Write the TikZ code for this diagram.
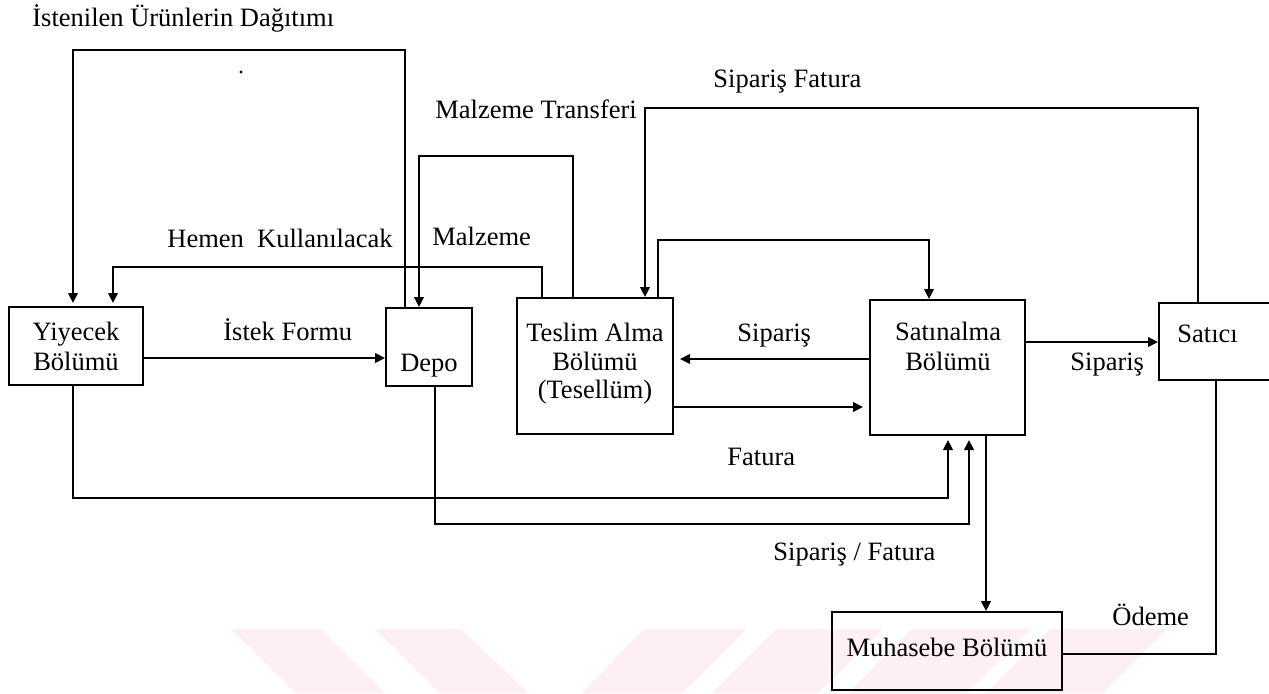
\documentclass[tikz,border=0pt]{standalone}
\usepackage{fontspec}
\setmainfont{Liberation Serif}
\usetikzlibrary{arrows.meta}
\definecolor{wmark}{RGB}{253,239,242}
\tikzset{
  box/.style={draw, line width=1pt, rectangle, inner sep=0pt},
  lbl/.style={font=\fontsize{13.25}{15.5}\selectfont, inner sep=0pt, anchor=base},
  lblw/.style={lbl, anchor=base west},
  link/.style={line width=1pt},
  arr/.style={link, -{Triangle[length=5pt,width=4.8pt]}},
}
\begin{document}
\begin{tikzpicture}[x=0.5pt,y=-0.5pt]
\useasboundingbox (0,0) rectangle (1269,693);
\fill[white] (0,0) rectangle (1269,693);

% pale stripes along the lower edge
\fill[wmark] (231,629) -- (320,629) -- (385,693) -- (296,693) -- cycle;
\fill[wmark] (375,629) -- (461,629) -- (528,693) -- (440,693) -- cycle;
\fill[wmark] (644,629) -- (746,629) -- (682,693) -- (582,693) -- cycle;
\fill[wmark] (776,629) -- (882,629) -- (818,693) -- (712,693) -- cycle;
\fill[wmark] (912,629) -- (1030,629) -- (966,693) -- (848,693) -- cycle;
\fill[wmark] (1050,629) -- (1167,629) -- (1103,693) -- (986,693) -- cycle;

% departments
\node[box, minimum width=67pt, minimum height=39pt] (yiy) at (76,346) {};
\node[box, minimum width=43pt, minimum height=39pt] (depo) at (429,347) {};
\node[box, minimum width=78pt, minimum height=68pt] (teslim) at (595,366) {};
\node[box, minimum width=77.5pt, minimum height=67.5pt] (satin) at (947.5,367.5) {};
\node[box, minimum width=115pt, minimum height=39pt] (muh) at (947,651) {};
\begin{scope}
  \clip (0,0) rectangle (1269,693);
  \node[box, minimum width=65.5pt, minimum height=38.5pt] (satici) at (1224.5,341.5) {};
\end{scope}

% box texts
\node[lbl] (t1) at (76,340) {Yiyecek};
\node[lbl] (t2) at (76,370) {Bölümü};
\node[lbl] (t3) at (429,371) {Depo};
\node[lbl] (t4) at (595,341) {Teslim Alma};
\node[lbl] (t5) at (595,370) {Bölümü};
\node[lbl] (t6) at (595,398) {(Tesellüm)};
\node[lbl] (t7) at (948,340) {Satınalma};
\node[lbl] (t8) at (948,370) {Bölümü};
\node[lblw] (t9) at (1177,342) {Satıcı};
\node[lbl] (t10) at (947,656) {Muhasebe Bölümü};

% flow labels
\node[lblw] (l1) at (32,26) {İstenilen Ürünlerin Dağıtımı};
\node[lblw] (l2) at (435,118) {Malzeme Transferi};
\node[lblw] (l3) at (713,87) {Sipariş Fatura};
\node[lblw] (l4) at (167,247) {Hemen\ \ Kullanılacak};
\node[lblw] (l5) at (432,245) {Malzeme};
\node[lblw] (l6) at (223,340) {İstek Formu};
\node[lblw] (l7) at (737,341) {Sipariş};
\node[lblw] (l8) at (1070,370) {Sipariş};
\node[lblw] (l9) at (727,465) {Fatura};
\node[lblw] (l10) at (773,560) {Sipariş / Fatura};
\node[lblw] (l11) at (1112,625) {Ödeme};

\fill (241,72) circle[radius=0.8pt];

% connectors
\draw[arr, shorten >=1.5pt] (405,0 |- depo.north) -- (405,50) -- (73,50) -- (73,0 |- yiy.north);
\draw[arr] (573,0 |- teslim.north) -- (573,156) -- (419,156) -- (419,0 |- depo.north);
\draw[arr, shorten >=1.5pt] (542,0 |- teslim.north) -- (542,267) -- (113,267) -- (113,0 |- yiy.north);
\draw[arr] (1198,0 |- satici.north) -- (1198,108) -- (645,108) -- (645,0 |- teslim.north);
\draw[arr] (658,0 |- teslim.north) -- (658,240) -- (929,240) -- (929,0 |- satin.north);
\draw[arr] (yiy.east |- 0,358) -- (depo.west |- 0,358);
\draw[arr, shorten >=3pt] (satin.west |- 0,359) -- (teslim.east |- 0,359);
\draw[arr, shorten >=3pt] (teslim.east |- 0,407) -- (satin.west |- 0,407);
\draw[arr] (satin.east |- 0,342) -- (satici.west |- 0,342);
\draw[arr, shorten >=2pt] (73,0 |- yiy.south) -- (73,498) -- (948,498) -- (948,0 |- satin.south);
\draw[arr, shorten >=2pt] (435,0 |- depo.south) -- (435,524) -- (969,524) -- (969,0 |- satin.south);
\draw[arr] (986,0 |- satin.south) -- (986,0 |- muh.north);
\draw[link] (muh.east |- 0,654) -- (1216,654) -- (1216,0 |- satici.south);
\end{tikzpicture}
\end{document}
